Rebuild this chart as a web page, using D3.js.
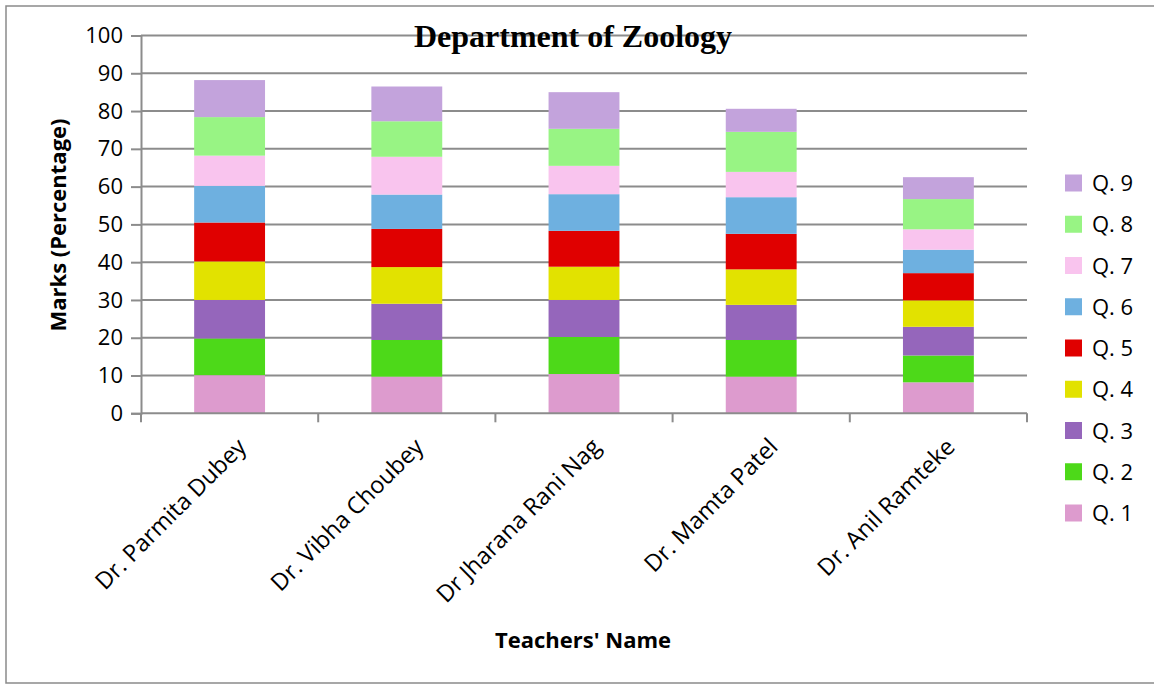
<!DOCTYPE html>
<html>
<head>
<meta charset="utf-8">
<script src="https://cdn.jsdelivr.net/npm/d3@7"></script>
<style>
  body { margin: 0; background: #fff; }
  svg { display: block; font-family: "Open Sans", "DejaVu Sans", sans-serif; }
</style>
</head>
<body>
<div class="chart"></div>
<script>
// ---------------------------------- DATA
var teachers = ["Dr. Parmita Dubey", "Dr. Vibha Choubey", "Dr Jharana Rani Nag", "Dr. Mamta Patel", "Dr. Anil Ramteke"];
var questions = ["Q. 1", "Q. 2", "Q. 3", "Q. 4", "Q. 5", "Q. 6", "Q. 7", "Q. 8", "Q. 9"];
var q1 = [10.1, 9.7, 10.4, 9.7, 8.2];
var q2 = [9.7, 9.7, 9.8, 9.7, 7.1];
var q3 = [10.2, 9.6, 9.8, 9.3, 7.6];
var q4 = [10.2, 9.7, 8.8, 9.4, 7.0];
var q5 = [10.3, 10.1, 9.5, 9.4, 7.2];
var q6 = [9.7, 9.1, 9.7, 9.7, 6.2];
var q7 = [8.0, 10.0, 7.5, 6.7, 5.4];
var q8 = [10.2, 9.4, 9.8, 10.6, 8.0];
var q9 = [9.8, 9.2, 9.7, 6.1, 5.8];
var yTicks = [0, 10, 20, 30, 40, 50, 60, 70, 80, 90, 100];
var colors = ["#dd9bce", "#4dd919", "#9566bb", "#e2e200", "#e00000", "#6eb0e0", "#f9c4ee", "#98f484", "#c3a3dc"];

var series = [q1, q2, q3, q4, q5, q6, q7, q8, q9];

// build table rows for d3.stack
var rows = teachers.map(function (t, i) {
  var row = { name: t };
  questions.forEach(function (q, j) { row[q] = series[j][i]; });
  return row;
});

// ---------------------------------- LAYOUT
var width = 1154, height = 687;
var margin = { left: 141, right: 127, top: 35.5, bottom: 273.7 };
var innerW = width - margin.left - margin.right;
var innerH = height - margin.top - margin.bottom;

var svg = d3.select(".chart").append("svg")
  .attr("width", width)
  .attr("height", height);

// outer border
svg.append("rect")
  .attr("x", 6).attr("y", 6)
  .attr("width", 1160).attr("height", 677)
  .attr("fill", "none")
  .attr("stroke", "#8a8a8a")
  .attr("stroke-width", 1.5);

var chartGroup = svg.append("g")
  .attr("transform", "translate(" + margin.left + "," + margin.top + ")");

// ---------------------------------- SCALES
var x = d3.scaleBand()
  .domain(teachers)
  .range([0, innerW])
  .paddingInner(0.6)
  .paddingOuter(0.3);

var y = d3.scaleLinear()
  .domain([0, 100])
  .range([innerH, 0]);

var color = d3.scaleOrdinal().domain(questions).range(colors);

// gridlines
chartGroup.append("g")
  .selectAll("line")
  .data(yTicks.filter(function (d) { return d > 0; }))
  .enter().append("line")
  .attr("x1", 0).attr("x2", innerW)
  .attr("y1", function (d) { return y(d); })
  .attr("y2", function (d) { return y(d); })
  .attr("stroke", "#8c8c8c")
  .attr("stroke-width", 2);

// ---------------------------------- BARS
var stacked = d3.stack().keys(questions)(rows);

chartGroup.selectAll("g.layer")
  .data(stacked)
  .enter().append("g")
  .attr("class", "layer")
  .attr("fill", function (d) { return color(d.key); })
  .selectAll("rect")
  .data(function (d) { return d; })
  .enter().append("rect")
  .attr("x", function (d) { return x(d.data.name); })
  .attr("width", x.bandwidth())
  .attr("y", function (d) { return y(d[1]); })
  .attr("height", function (d) { return y(d[0]) - y(d[1]); });

// ---------------------------------- AXES
var yAxis = d3.axisLeft(y).tickValues(yTicks).tickSize(10).tickPadding(8);
var yG = chartGroup.append("g").call(yAxis);
yG.select(".domain").attr("stroke", "#8c8c8c").attr("stroke-width", 2);
yG.selectAll(".tick line").attr("stroke", "#8c8c8c").attr("stroke-width", 2);
yG.selectAll(".tick text")
  .attr("font-size", 22)
  .attr("fill", "#000")
  .attr("font-family", "Open Sans, sans-serif");

// x axis: ticks between categories
var xG = chartGroup.append("g").attr("transform", "translate(0," + innerH + ")");
xG.append("line")
  .attr("x1", 0).attr("x2", innerW)
  .attr("stroke", "#8c8c8c").attr("stroke-width", 2);
var boundaries = d3.range(teachers.length + 1).map(function (i) { return i * innerW / teachers.length; });
xG.selectAll("line.tk")
  .data(boundaries)
  .enter().append("line")
  .attr("class", "tk")
  .attr("x1", function (d) { return d; }).attr("x2", function (d) { return d; })
  .attr("y1", 0).attr("y2", 9)
  .attr("stroke", "#8c8c8c").attr("stroke-width", 2);

xG.selectAll("text.lbl")
  .data(teachers)
  .enter().append("text")
  .attr("class", "lbl")
  .attr("text-anchor", "end")
  .attr("font-size", 23.5)
  .attr("transform", function (d) {
    var cx = x(d) + x.bandwidth() / 2 + 18;
    return "translate(" + cx + ",35) rotate(-45)";
  })
  .text(function (d) { return d; });

// ---------------------------------- TITLES
svg.append("text")
  .attr("x", 573).attr("y", 47)
  .attr("text-anchor", "middle")
  .attr("font-family", "Liberation Serif, Times New Roman, serif")
  .attr("font-weight", "bold")
  .attr("font-size", 32)
  .text("Department of Zoology");

svg.append("text")
  .attr("transform", "translate(66,225) rotate(-90)")
  .attr("text-anchor", "middle")
  .attr("font-weight", "bold")
  .attr("font-size", 22)
  .text("Marks (Percentage)");

svg.append("text")
  .attr("x", 583).attr("y", 648)
  .attr("text-anchor", "middle")
  .attr("font-weight", "bold")
  .attr("font-size", 22)
  .text("Teachers' Name");

// ---------------------------------- LEGEND
var legendItems = questions.slice().reverse();
var legend = svg.append("g").attr("transform", "translate(1065,183)");
var item = legend.selectAll("g")
  .data(legendItems)
  .enter().append("g")
  .attr("transform", function (d, i) { return "translate(0," + (i * 41.25) + ")"; });
item.append("rect")
  .attr("x", 0).attr("y", -8.5)
  .attr("width", 17).attr("height", 17)
  .attr("fill", function (d) { return color(d); });
item.append("text")
  .attr("x", 27).attr("y", 8)
  .attr("font-size", 22)
  .text(function (d) { return d; });
</script>
</body>
</html>
